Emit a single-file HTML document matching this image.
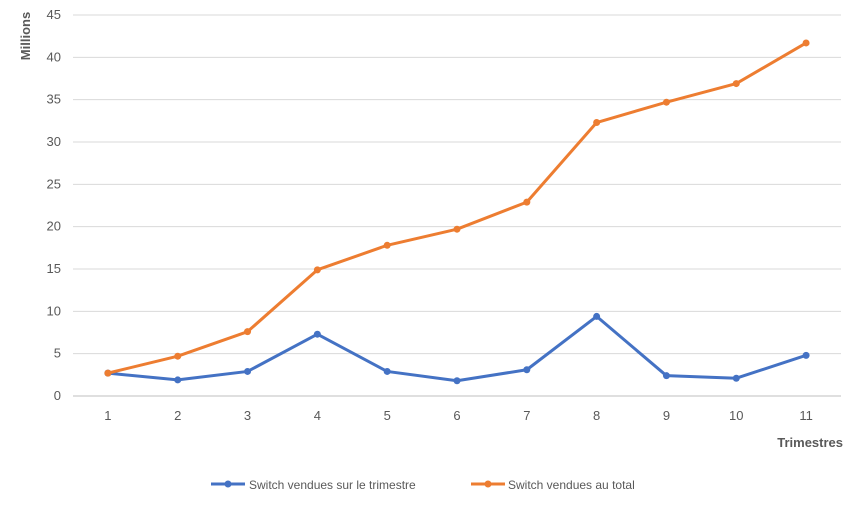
<!DOCTYPE html>
<html><head><meta charset="utf-8"><style>
body{margin:0;background:#fff;font-family:"Liberation Sans",Arial,sans-serif;}
svg text{font-family:"Liberation Sans",Arial,sans-serif;}
</style></head><body>
<svg id="chart" width="858" height="508" viewBox="0 0 858 508">
<g id="grid"></g>
<g id="yticks"></g>
<g id="xticks"></g>
<g id="series"></g>
<text x="30" y="36" transform="rotate(-90 30 36)" text-anchor="middle" font-size="13" font-weight="bold" fill="#595959">Millions</text>
<text x="843" y="447" text-anchor="end" font-size="13" font-weight="bold" fill="#595959">Trimestres</text>
<g>
<g>
<line x1="211" y1="484" x2="245" y2="484" stroke="#4472C4" stroke-width="3"/>
<circle cx="228" cy="484" r="3.5" fill="#4472C4"/>
<text x="249" y="489" font-size="12" fill="#595959">Switch vendues sur le trimestre</text>
</g>
<g>
<line x1="471" y1="484" x2="505" y2="484" stroke="#ED7D31" stroke-width="3"/>
<circle cx="488" cy="484" r="3.5" fill="#ED7D31"/>
<text x="508" y="489" font-size="12" fill="#595959">Switch vendues au total</text>
</g>
</g>
</svg>
<script>
const categories=["1","2","3","4","5","6","7","8","9","10","11"];
const quarterly=[2.7,1.9,2.9,7.3,2.9,1.8,3.1,9.4,2.4,2.1,4.8];
const cumulative=[2.7,4.7,7.6,14.9,17.8,19.7,22.9,32.3,34.7,36.9,41.7];
const yTicks=[0,5,10,15,20,25,30,35,40,45];
const NS="http://www.w3.org/2000/svg";
const plotLeft=73,plotRight=841,plotTop=15,plotBottom=396,yMax=45;
const step=(plotRight-plotLeft)/categories.length;
function xs(i){return plotLeft+step*(i+0.5);}
function ys(v){return plotBottom-(v/yMax)*(plotBottom-plotTop);}
function mk(tag,attrs,parent){const e=document.createElementNS(NS,tag);for(const k in attrs)e.setAttribute(k,attrs[k]);parent.appendChild(e);return e;}
const grid=document.getElementById('grid'),yt=document.getElementById('yticks'),xt=document.getElementById('xticks'),sg=document.getElementById('series');
yTicks.forEach(v=>{
 const l=mk('line',{x1:plotLeft,x2:plotRight,y1:ys(v),y2:ys(v),stroke:v===0?'#BFBFBF':'#D9D9D9','stroke-width':1},grid);
 
 
 const t=mk('text',{x:61,y:ys(v)+4,'text-anchor':'end','font-size':13,fill:'#595959'},yt);
 t.textContent=v;
 
 
});
categories.forEach((c,i)=>{
 const t=mk('text',{x:xs(i),y:420,'text-anchor':'middle','font-size':13,fill:'#595959'},xt);
 t.textContent=c;
 
 
});
function drawSeries(vals,color,name){
 const g=mk('g',{},sg);
 
 
 const pl=mk('polyline',{points:vals.map((v,i)=>xs(i)+','+ys(v)).join(' '),fill:'none',stroke:color,'stroke-width':3,'stroke-linejoin':'round'},g);
 
 
 vals.forEach((v,i)=>{
  const c=mk('circle',{cx:xs(i),cy:ys(v),r:3.5,fill:color},g);
  
  
 });
}
drawSeries(quarterly,'#4472C4','series-quarterly');
drawSeries(cumulative,'#ED7D31','series-cumulative');
</script>
</body></html>
